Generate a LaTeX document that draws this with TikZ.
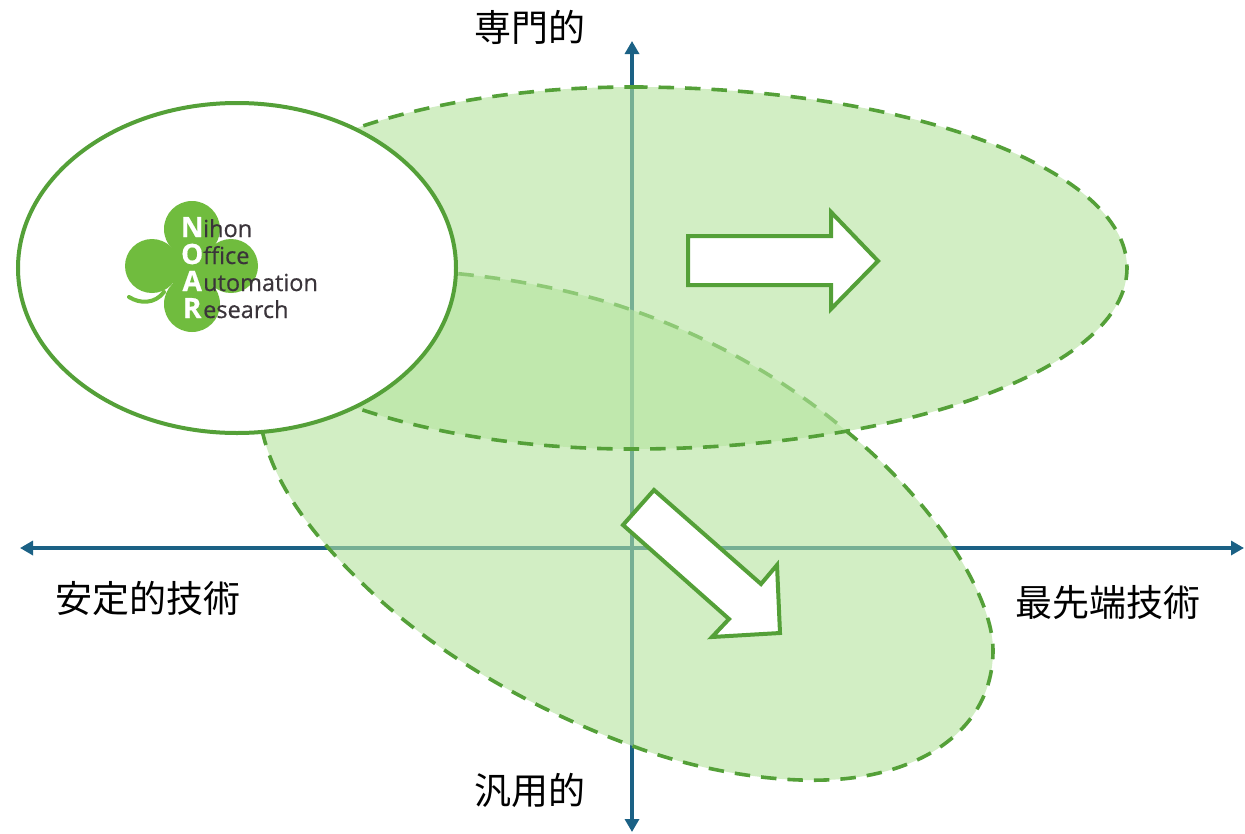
\documentclass[tikz,border=0pt]{standalone}
\usepackage{fontspec}
\setmainfont{Open Sans}
\newfontfamily\cjk{Noto Sans CJK JP}
\newfontfamily\logofont[FakeBold=0.5]{Open Sans}
\usetikzlibrary{arrows.meta}
\definecolor{axisc}{RGB}{27,97,133}
\definecolor{leaf}{RGB}{84,160,56}
\definecolor{soft}{RGB}{180,228,158}
\definecolor{clover}{RGB}{112,188,62}
\definecolor{ink}{RGB}{58,52,58}
\tikzset{
  x=1pt,y=-1pt,
  axisline/.style={draw=axisc,line width=4pt,{Triangle[width=14pt,length=13pt]}-{Triangle[width=14pt,length=13pt]}},
  zone/.style={draw=leaf,line width=3.6pt,dash pattern=on 15.5pt off 11pt,fill=soft,fill opacity=.6},
  bigarrow/.style={draw=leaf,line width=4pt,fill=white,miter limit=10},
  lab/.style={font=\cjk\fontsize{37}{40}\selectfont,inner sep=0pt,text=black},
  logotext/.style={anchor=base west,inner sep=0pt,text=ink,font=\logofont\fontsize{23.5}{25}\selectfont},
  petal/.style={fill=clover,draw=none}
}
\newcommand{\logocap}[1]{\makebox[22pt]{\textcolor{white}{\bfseries\fontsize{28}{28}\selectfont #1}}}
\begin{document}
\begin{tikzpicture}
\useasboundingbox (0,0) rectangle (1245,833);
\fill[white] (0,0) rectangle (1245,833);
\coordinate (vt) at (632,41); \coordinate (vb) at (632,832);
\coordinate (hl) at (20,548); \coordinate (hr) at (1244,548);
\draw[axisline] (vt) -- (vb);
\draw[axisline] (hl) -- (hr);
% lower zone
\path[zone] (262,430) .. controls (275,490) and (320,545) .. (380,600)
  .. controls (450,662) and (540,712) .. (630,745)
  .. controls (695,770) and (770,782) .. (825,780)
  .. controls (920,777) and (993,730) .. (993,650)
  .. controls (993,598) and (938,505) .. (845,430)
  .. controls (780,375) and (700,332) .. (620,306)
  .. controls (560,287) and (500,277) .. (440,272)
  .. controls (350,300) and (290,370) .. (262,430) -- cycle;
% upper zone
\path[zone] (632,87) .. controls (905,87) and (1127,168) .. (1127,268)
  .. controls (1127,368) and (905,449) .. (632,449)
  .. controls (392,449) and (198,368) .. (198,268)
  .. controls (198,168) and (392,87) .. (632,87) -- cycle;
% white ellipse
\path[draw=leaf,line width=4pt,fill=white] (237,268) ellipse [x radius=219,y radius=165];
% logo
\fill[petal] (192,229) circle (28);
\fill[petal] (152,266) circle (27);
\fill[petal] (231,266) circle (27);
\fill[petal] (192,304) circle (28);
\fill[petal] (192,266) circle (26);
\draw[clover,line width=4pt,line cap=round] (129,297) .. controls (140,304) and (155,304) .. (164,292);
\node[logotext] (l1) at (181,237) {\logocap{N}ihon};
\node[logotext] (l2) at (181,264) {\logocap{O}ffice};
\node[logotext] (l3) at (181,291) {\logocap{A}utomation};
\node[logotext] (l4) at (181,318) {\logocap{R}esearch};
% arrows
\draw[bigarrow] (688,236) -- (831,236) -- (831,212) -- (878,261) -- (831,309) -- (831,285) -- (688,285) -- cycle;
\draw[bigarrow] (654,490) -- (761,584) -- (777,565) -- (780,633) -- (712,637) -- (729,619) -- (623,525) -- cycle;
% labels
\node[lab] (t) at (530,27) {専門的};
\node[lab] (b) at (530,790) {汎用的};
\node[lab] (l) at (148,598) {安定的技術};
\node[lab] (r) at (1108,603) {最先端技術};
\end{tikzpicture}
\end{document}
